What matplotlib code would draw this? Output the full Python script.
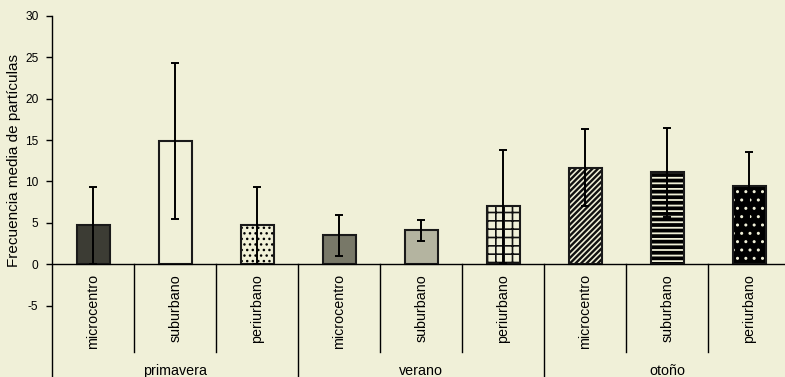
import matplotlib
matplotlib.use("Agg")
import matplotlib.pyplot as plt

plt.rcParams['font.family'] = ['Liberation Sans', 'DejaVu Sans']

seasons = ["primavera", "verano", "otoño"]
zones = ["microcentro", "suburbano", "periurbano"]
means = [4.7, 14.87, 4.7, 3.5, 4.1, 7.0, 11.65, 11.1, 9.5]
errors = [4.65, 9.45, 4.65, 2.45, 1.25, 6.8, 4.65, 5.35, 4.05]
y_ticks = [-5, 0, 5, 10, 15, 20, 25, 30]

BG = "#F0F0D8"
faces = ["#3C3C34", BG, BG, "#787868", "#B4B4A0", BG, BG, BG, "#000000"]
hatches = [None, None, "...", None, None, "++", "//////", "---", ".."]
hatch_colors = [None, None, "#000000", None, None, "#111111", "#111111", "#000000", BG]
hatch_lws = [1, 1, 1.0, 1, 1, 1.2, 1.7, 2.7, 1.0]

fig = plt.figure(figsize=(7.85, 3.77), dpi=100, facecolor=BG)
ax = fig.add_axes([52.3 / 785, 0.0, 738 / 785, (377 - 15.7) / 377])
ax.set_facecolor(BG)
ax.set_xlim(-0.5, 8.5)
ax.set_ylim(-13.6, 30)

x = list(range(len(means)))
for i in x:
    if hatches[i]:
        with plt.rc_context({'hatch.linewidth': hatch_lws[i], 'hatch.color': hatch_colors[i]}):
            b = ax.bar(i, means[i], width=0.4, color=faces[i], edgecolor=hatch_colors[i],
                       hatch=hatches[i], linewidth=0, zorder=2)
            for p in b:
                if hasattr(p, "set_hatch_linewidth"):
                    p.set_hatch_linewidth(hatch_lws[i])
    else:
        ax.bar(i, means[i], width=0.4, color=faces[i], linewidth=0, zorder=2)
    ax.bar(i, means[i], width=0.4, fill=False, edgecolor="#1A1A1A", linewidth=1.5, zorder=3)

ax.errorbar(x, means, yerr=errors, fmt="none", ecolor="#000000", elinewidth=1.4,
            capsize=2.6, capthick=1.4, zorder=4)

# axes frame: only the left axis, baseline at zero
for s in ["top", "right", "bottom"]:
    ax.spines[s].set_visible(False)
ax.spines["left"].set_linewidth(1.0)
ax.axhline(0, color="#000000", linewidth=1.0, zorder=5)

ax.set_yticks(y_ticks)
ax.set_yticklabels([str(v) for v in y_ticks], fontsize=8.6)
ax.tick_params(axis="y", direction="out", length=4, width=1.0, pad=6)
ax.set_xticks([])

# category labels and separators
for i, z in enumerate(zones * 3):
    ax.text(i, -1.2, z, rotation=90, ha="center", va="top", fontsize=10.3)
for k in range(1, 9):
    if k % 3 == 0:
        ax.plot([k - 0.5, k - 0.5], [0, -13.6], color="#000000", lw=1.0, clip_on=False)
    else:
        ax.plot([k - 0.5, k - 0.5], [0, -10.6], color="#000000", lw=1.0, clip_on=False)
for g, name in enumerate(seasons):
    ax.text(3 * g + 1, -13.3, name, ha="center", va="baseline", fontsize=10.3)

ax.set_ylabel("Frecuencia media de partículas", fontsize=11)
ax.yaxis.set_label_coords(-(52.3 - 21.5) / 738, (12.5 + 13.6) / 43.6)

fig.savefig("out.png", dpi=100, facecolor=BG)
